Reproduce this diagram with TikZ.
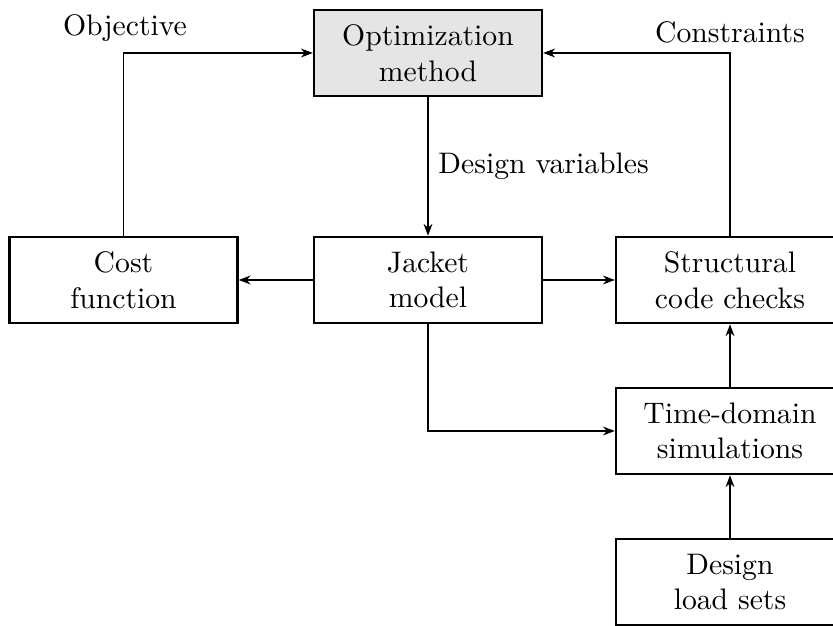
\documentclass[tikz,border=0pt]{standalone}
\usetikzlibrary{arrows.meta}
\begin{document}
\begin{tikzpicture}[x=0.011834cm, y=-0.011834cm,
  blockbox/.style={draw, thick, minimum width=2.7cm, minimum height=1.02cm, align=center, inner sep=2pt},
  conn/.style={-{Stealth[length=4pt,width=3pt]}, thin}]
\useasboundingbox (0,0) rectangle (833,626);
\node[blockbox, fill=black!10] (opt) at (428,53) {Optimization\\method};
\node[blockbox] (cost) at (123.5,280) {Cost\\function};
\node[blockbox] (jack) at (428,280) {Jacket\\model};
\node[blockbox] (struct) at (730,280) {Structural\\code checks};
\node[blockbox] (time) at (730,431) {Time-domain\\simulations};
\node[blockbox] (load) at (730,582) {Design\\load sets};
\coordinate (objc) at (cost.north |- opt.west);
\coordinate (conc) at (struct.north |- opt.east);
\node (objl) at (125,28) {Objective};
\node (conl) at (730,32) {Constraints};
\draw[conn] (cost.north) -- (objc) -- (opt.west);
\draw[conn] (struct.north) -- (conc) -- (opt.east);
\draw[conn] (opt.south) -- node[right] (dv) {Design variables} (jack.north);
\draw[conn] (jack.west) -- (cost.east);
\draw[conn] (jack.east) -- (struct.west);
\draw[conn] (jack.south) |- (time.west);
\draw[conn] (time.north) -- (struct.south);
\draw[conn] (load.north) -- (time.south);
\end{tikzpicture}
\end{document}
